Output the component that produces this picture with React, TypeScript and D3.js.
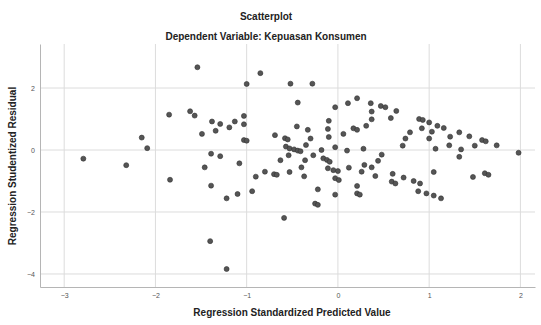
import React, { useEffect, useRef } from 'react';
import * as d3 from 'd3';

// Regression Standardized Predicted Value (x) vs Studentized Residual (y)
const predicted = [
  -1.54, -0.85, -1.0, -1.85, -1.62, -1.57, -1.38, -1.29, -1.13, -1.03, -1.03, -1.19, -1.34, -1.49,
  -2.15, -2.09, -2.79, -2.32, -1.84, -1.39, -1.29, -1.46, -1.08, -1.03, -1.0, -1.39, -1.22, -1.1,
  -0.94, -0.9, -0.8, -1.4, -1.22,
  -0.52, -0.28, -0.44, 0.21, 0.11, -0.03, 0.36, 0.47, 0.52, 0.37, 0.64, 0.58, 0.37, 0.31, 0.17,
  0.21, 0.06, -0.1, -0.11, -0.1, -0.03, 0.1, 0.28, -0.18, -0.45, -0.33, -0.69, -0.58, -0.55, -0.3,
  -0.35, -0.57, -0.53, -0.48, -0.44, -0.41, -0.54, -0.63, -0.36, -0.27, -0.16, -0.12, -0.09, -0.4,
  -0.7, -0.67, -0.53, -0.37, -0.11, -0.05, 0.0, -0.03, 0.01, -0.22, -0.25, -0.22, -0.03, -0.59,
  0.12, 0.26, 0.29, 0.37, 0.44, 0.48, 0.41, 0.21, 0.21, 0.24, 0.6, 0.59, 0.63, 0.72, 0.83, 0.9,
  0.88, 0.97, 1.05, 1.13, 1.05, 1.48, 1.61, 1.65, 1.98, 1.74, 1.58, 1.62, 1.5, 1.44, 1.35, 1.33,
  1.33, 1.23, 1.22, 1.16, 1.09, 1.0, 0.89, 0.93, 0.92, 1.03, 1.0, 1.07, 0.79, 0.74, 0.71,
];
const residual = [
  2.67, 2.48, 2.13, 1.14, 1.25, 1.11, 0.92, 0.84, 0.92, 1.1, 0.83, 0.73, 0.62, 0.52,
  0.4, 0.06, -0.28, -0.49, -0.96, -0.12, -0.2, -0.56, -0.43, 0.32, 0.3, -1.15, -1.56, -1.42,
  -1.33, -0.86, -0.7, -2.94, -3.84,
  2.14, 2.14, 1.53, 1.67, 1.51, 1.38, 1.51, 1.42, 1.38, 1.24, 1.26, 1.03, 0.99, 0.78, 0.7,
  0.65, 0.52, 0.94, 0.68, 0.42, 0.09, -0.02, 0.04, 0.0, 0.76, 0.65, 0.48, 0.38, 0.34, 0.37,
  0.16, 0.11, 0.05, 0.02, -0.02, -0.04, -0.17, -0.33, -0.33, -0.17, -0.27, -0.32, -0.38, -0.56,
  -0.78, -0.8, -0.71, -0.85, -0.59, -0.65, -0.68, -0.91, -0.97, -1.27, -1.73, -1.77, -1.44, -2.19,
  -0.57, -0.7, -0.48, -0.56, -0.35, -0.15, -0.84, -1.16, -1.4, -1.44, -0.77, -1.02, -1.08, -0.89, -1.0, -1.08,
  -1.33, -1.4, -1.47, -1.56, -0.71, -0.87, -0.75, -0.8, -0.09, 0.15, 0.32, 0.28, 0.14, 0.44, 0.02, -0.22,
  0.57, 0.43, 0.15, 0.71, 0.78, 0.89, 1.0, 0.97, 0.7, 0.59, 0.37, 0.04, 0.57, 0.37, 0.14,
];
const xTicks = [-3, -2, -1, 0, 1, 2];
const yTicks = [2, 0, -2, -4];

const title = 'Scatterplot';
const subtitle = 'Dependent Variable: Kepuasan Konsumen';
const xTitle = 'Regression Standardized Predicted Value';
const yTitle = 'Regression Studentized Residual';

const App = () => {
  const svgRef = useRef<SVGSVGElement>(null);

  useEffect(() => {
    const svg = d3.select(svgRef.current);
    svg.selectAll('*').remove();

    const width = 541;
    const height = 325;
    const margin = { top: 44, right: 6, bottom: 38, left: 40 };
    const font = "Arial, 'Liberation Sans', sans-serif";

    const x = d3.scaleLinear()
      .domain([-3.265, 2.16])
      .range([margin.left, width - margin.right]);
    const y = d3.scaleLinear()
      .domain([-4.42, 3.42])
      .range([height - margin.bottom, margin.top]);

    // grid
    svg.append('g')
      .selectAll('line')
      .data(xTicks)
      .join('line')
      .attr('x1', d => x(d)).attr('x2', d => x(d))
      .attr('y1', margin.top).attr('y2', height - margin.bottom)
      .attr('stroke', '#dcdcdc');
    svg.append('g')
      .selectAll('line')
      .data(yTicks)
      .join('line')
      .attr('x1', margin.left).attr('x2', width - margin.right)
      .attr('y1', d => y(d)).attr('y2', d => y(d))
      .attr('stroke', '#dcdcdc');

    // axes
    const xAxis = d3.axisBottom(x).tickValues(xTicks).tickSize(0).tickPadding(6).tickFormat(d3.format('d'));
    const yAxis = d3.axisLeft(y).tickValues(yTicks).tickSize(0).tickPadding(5).tickFormat(d3.format('d'));
    const gx = svg.append('g')
      .attr('transform', `translate(0,${height - margin.bottom})`)
      .call(xAxis);
    const gy = svg.append('g')
      .attr('transform', `translate(${margin.left},0)`)
      .call(yAxis);
    [gx, gy].forEach(g => {
      g.select('.domain').attr('stroke', '#b5b5b5');
      g.selectAll('text').attr('font-family', font).attr('font-size', 7).attr('fill', '#555');
    });

    // points
    const pts = predicted.map((p, i) => ({ p, r: residual[i] }));
    svg.append('g')
      .selectAll('circle')
      .data(pts)
      .join('circle')
      .attr('cx', d => x(d.p))
      .attr('cy', d => y(d.r))
      .attr('r', 2.5)
      .attr('fill', '#555')
      .attr('stroke', '#333')
      .attr('stroke-width', 0.6);

    // titles
    svg.append('text')
      .attr('x', 266).attr('y', 20)
      .attr('text-anchor', 'middle')
      .attr('font-family', font).attr('font-size', 10).attr('font-weight', 'bold')
      .attr('fill', '#222')
      .text(title);
    svg.append('text')
      .attr('x', 266).attr('y', 40)
      .attr('text-anchor', 'middle')
      .attr('font-family', font).attr('font-size', 10).attr('font-weight', 'bold')
      .attr('fill', '#222')
      .text(subtitle);
    svg.append('text')
      .attr('x', 292).attr('y', 316)
      .attr('text-anchor', 'middle')
      .attr('font-family', font).attr('font-size', 10).attr('font-weight', 'bold')
      .attr('fill', '#222')
      .text(xTitle);
    svg.append('text')
      .attr('transform', `translate(16,166) rotate(-90)`)
      .attr('text-anchor', 'middle')
      .attr('font-family', font).attr('font-size', 10).attr('font-weight', 'bold')
      .attr('fill', '#222')
      .text(yTitle);
  }, []);

  return (
    <svg
      ref={svgRef}
      width={541}
      height={325}
      style={{ position: 'absolute', left: 0, top: 0, background: '#fff' }}
    />
  );
};

export default App;
